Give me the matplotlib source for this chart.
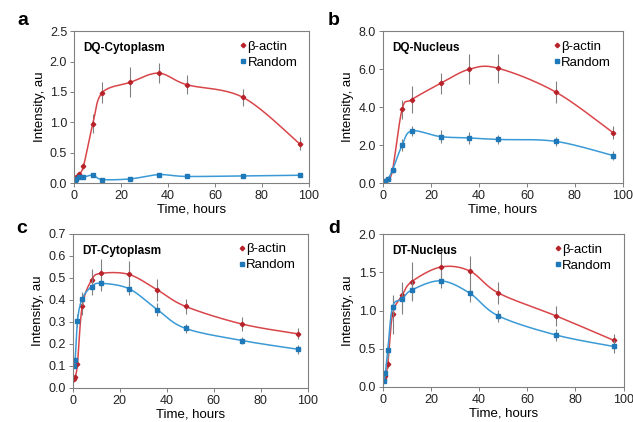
import numpy as np
import matplotlib.pyplot as plt

plt.rcParams['font.family'] = ['Liberation Sans', 'DejaVu Sans']

# time points, hours
t = [0.5, 1, 2, 4, 8, 12, 24, 36, 48, 72, 96]

# a: DQ-Cytoplasm
a_actin = [0.05, 0.10, 0.15, 0.28, 0.98, 1.49, 1.66, 1.81, 1.62, 1.41, 0.65]
a_actin_err = [0.02, 0.02, 0.03, 0.04, 0.15, 0.17, 0.25, 0.16, 0.16, 0.14, 0.11]
a_rand = [0.03, 0.07, 0.10, 0.10, 0.13, 0.06, 0.07, 0.14, 0.11, 0.12, 0.13]
a_rand_err = [0.01, 0.01, 0.01, 0.01, 0.02, 0.01, 0.01, 0.02, 0.01, 0.01, 0.01]

# b: DQ-Nucleus
b_actin = [0.05, 0.10, 0.20, 0.70, 3.90, 4.40, 5.25, 6.00, 6.05, 4.80, 2.65]
b_actin_err = [0.02, 0.03, 0.05, 0.10, 0.50, 0.70, 0.55, 0.80, 0.75, 0.60, 0.35]
b_rand = [0.05, 0.10, 0.20, 0.70, 2.00, 2.75, 2.45, 2.38, 2.30, 2.20, 1.45]
b_rand_err = [0.02, 0.03, 0.05, 0.10, 0.30, 0.25, 0.35, 0.30, 0.25, 0.25, 0.25]

# c: DT-Cytoplasm
c_actin = [0.04, 0.05, 0.11, 0.37, 0.49, 0.52, 0.515, 0.445, 0.37, 0.29, 0.245]
c_actin_err = [0.01, 0.01, 0.02, 0.04, 0.05, 0.065, 0.06, 0.05, 0.035, 0.03, 0.025]
c_rand = [0.10, 0.125, 0.305, 0.405, 0.46, 0.475, 0.45, 0.355, 0.27, 0.215, 0.175]
c_rand_err = [0.01, 0.01, 0.03, 0.03, 0.04, 0.035, 0.03, 0.03, 0.02, 0.015, 0.02]

# d: DT-Nucleus
d_actin = [0.10, 0.15, 0.30, 0.95, 1.20, 1.38, 1.57, 1.52, 1.23, 0.93, 0.61]
d_actin_err = [0.02, 0.03, 0.05, 0.25, 0.18, 0.25, 0.21, 0.19, 0.15, 0.13, 0.08]
d_rand = [0.08, 0.18, 0.48, 1.05, 1.15, 1.27, 1.39, 1.23, 0.93, 0.68, 0.53]
d_rand_err = [0.02, 0.03, 0.10, 0.12, 0.20, 0.12, 0.10, 0.12, 0.08, 0.08, 0.08]

RED = '#d9464a'
RED_M = '#b8222a'
BLUE = '#3a9ad6'
BLUE_M = '#1f78b8'


def smooth(x, y, n=20):
    # Excel-like smoothed line (Catmull-Rom through the points)
    x = np.asarray(x, float)
    y = np.asarray(y, float)
    px = np.concatenate([[x[0]], x, [x[-1]]])
    py = np.concatenate([[y[0]], y, [y[-1]]])
    xs, ys = [], []
    s = np.linspace(0, 1, n)
    for i in range(1, len(px) - 2):
        p0, p1, p2, p3 = (np.array([px[j], py[j]]) for j in (i - 1, i, i + 1, i + 2))
        c1 = p1 + (p2 - p0) / 6
        c2 = p2 - (p3 - p1) / 6
        b = ((1 - s) ** 3)[:, None] * p1 + (3 * (1 - s) ** 2 * s)[:, None] * c1 \
            + (3 * (1 - s) * s ** 2)[:, None] * c2 + (s ** 3)[:, None] * p2
        xs.extend(b[:, 0])
        ys.extend(b[:, 1])
    return xs, ys


panels = [
    ('a', 'DQ-Cytoplasm', a_actin, a_actin_err, a_rand, a_rand_err, 2.5, 0.5,
     [0.117, 0.566, 0.371, 0.360], (0.028, 0.952)),
    ('b', 'DQ-Nucleus', b_actin, b_actin_err, b_rand, b_rand_err, 8.0, 2.0,
     [0.605, 0.566, 0.379, 0.360], (0.518, 0.952)),
    ('c', 'DT-Cytoplasm', c_actin, c_actin_err, c_rand, c_rand_err, 0.7, 0.1,
     [0.115, 0.081, 0.371, 0.365], (0.025, 0.458)),
    ('d', 'DT-Nucleus', d_actin, d_actin_err, d_rand, d_rand_err, 2.0, 0.5,
     [0.605, 0.083, 0.380, 0.362], (0.518, 0.458)),
]

fig = plt.figure(figsize=(6.33, 4.22), dpi=100)

for letter, title, ya, ea, yr, er, ymax, ystep, pos, lpos in panels:
    ax = fig.add_axes(pos)
    for y, e, lc, mc, mk, lab in [(ya, ea, RED, RED_M, 'D', 'β-actin'),
                                  (yr, er, BLUE, BLUE_M, 's', 'Random')]:
        ax.errorbar(t, y, yerr=e, fmt='none', ecolor='#808080', elinewidth=0.8, capsize=0)
        sx, sy = smooth(t, y)
        ax.plot(sx, sy, color=lc, lw=1.1)
        ax.plot(t, y, ls='none', marker=mk, ms=2.3 if mk == 'D' else 2.8, color=mc, label=lab)
    ax.set_xlim(0, 100)
    ax.set_ylim(0, ymax)
    ax.set_xticks(range(0, 101, 20))
    ax.set_yticks(np.arange(0, ymax + ystep / 2, ystep))
    ax.yaxis.set_major_formatter(plt.FormatStrFormatter('%.1f'))
    ax.tick_params(labelsize=9, length=3, width=0.7, color='#808080', labelcolor='#222222', pad=2)
    for sp in ax.spines.values():
        sp.set_color('#808080')
        sp.set_linewidth(0.8)
    ax.set_xlabel('Time, hours', fontsize=9.5, labelpad=1)
    ax.set_ylabel('Intensity, au', fontsize=9.5, labelpad=3)
    ax.text(0.04, 0.93, title, transform=ax.transAxes, fontsize=8.5, fontweight='bold', va='top')
    ax.legend(loc='upper right', frameon=False, fontsize=9.5, handlelength=0.4,
              handletextpad=0.1, borderaxespad=0.3, labelspacing=0.3,
              bbox_to_anchor=(0.99, 1.0))
    fig.text(lpos[0], lpos[1], letter, fontsize=14, fontweight='bold', va='center')

fig.savefig('out.png', dpi=100)
